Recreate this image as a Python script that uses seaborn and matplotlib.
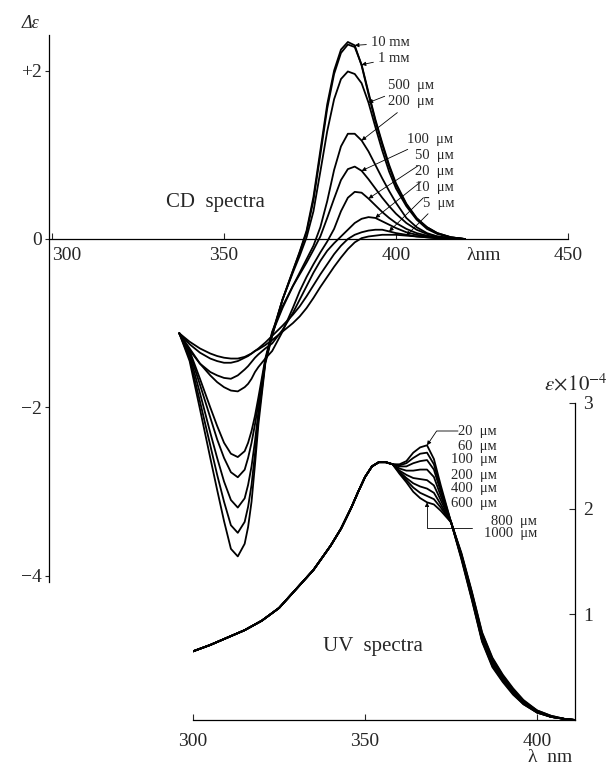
import matplotlib
matplotlib.use("Agg")
import matplotlib.pyplot as plt
import numpy as np
import pandas as pd
import seaborn as sns

# ---- CD spectra (delta epsilon) ----
cd_wl = [337, 340, 343, 346, 348, 350, 352, 354, 356, 357, 358, 359, 360,
         362, 364, 367, 370, 372, 374, 376, 378, 380, 382, 384, 386, 388,
         390, 392, 394, 396, 398, 400, 403, 406, 409, 412, 416, 420]

cd_10mM = [-1.12, -1.45, -2.02, -2.60, -2.98, -3.35, -3.68, -3.77, -3.62, -3.42, -3.12, -2.68, -2.20,
           -1.48, -1.15, -0.72, -0.38, -0.15, 0.10, 0.50, 1.05, 1.60, 2.00, 2.25, 2.34, 2.30,
           2.06, 1.72, 1.40, 1.12, 0.86, 0.64, 0.41, 0.24, 0.14, 0.07, 0.02, 0.00]
cd_1mM = [-1.12, -1.42, -1.93, -2.45, -2.80, -3.12, -3.40, -3.49, -3.36, -3.18, -2.92, -2.55, -2.12,
          -1.46, -1.14, -0.72, -0.38, -0.16, 0.08, 0.46, 1.00, 1.55, 1.96, 2.21, 2.31, 2.28,
          2.07, 1.74, 1.42, 1.14, 0.88, 0.66, 0.42, 0.25, 0.14, 0.07, 0.02, 0.00]
cd_500uM = [-1.12, -1.38, -1.83, -2.30, -2.60, -2.88, -3.10, -3.19, -3.08, -2.92, -2.70, -2.40, -2.05,
            -1.45, -1.12, -0.72, -0.40, -0.20, 0.02, 0.33, 0.80, 1.28, 1.66, 1.90, 1.99, 1.96,
            1.85, 1.62, 1.33, 1.05, 0.80, 0.60, 0.39, 0.23, 0.12, 0.06, 0.02, 0.00]
cd_200uM = [-1.12, -1.35, -1.73, -2.12, -2.38, -2.60, -2.77, -2.83, -2.74, -2.60, -2.42, -2.20, -1.95,
            -1.45, -1.12, -0.82, -0.56, -0.40, -0.24, -0.08, 0.14, 0.45, 0.82, 1.10, 1.25, 1.25,
            1.17, 1.04, 0.88, 0.72, 0.57, 0.43, 0.25, 0.14, 0.07, 0.03, 0.01, 0.00]
cd_100uM = [-1.12, -1.33, -1.66, -2.00, -2.22, -2.42, -2.55, -2.59, -2.52, -2.42, -2.28, -2.10, -1.88,
            -1.42, -1.10, -0.80, -0.56, -0.42, -0.28, -0.13, 0.03, 0.25, 0.48, 0.70, 0.83, 0.86,
            0.81, 0.71, 0.60, 0.49, 0.39, 0.30, 0.19, 0.11, 0.06, 0.03, 0.01, 0.00]
cd_50uM = [-1.12, -1.30, -1.48, -1.62, -1.70, -1.76, -1.80, -1.81, -1.76, -1.72, -1.66, -1.58, -1.52,
           -1.42, -1.33, -1.10, -0.82, -0.62, -0.45, -0.30, -0.16, -0.03, 0.12, 0.33, 0.49, 0.56,
           0.55, 0.48, 0.40, 0.32, 0.25, 0.19, 0.12, 0.07, 0.04, 0.02, 0.01, 0.00]
cd_20uM = [-1.12, -1.32, -1.48, -1.58, -1.62, -1.65, -1.66, -1.62, -1.55, -1.51, -1.46, -1.41, -1.37,
           -1.30, -1.24, -1.08, -0.88, -0.72, -0.56, -0.40, -0.26, -0.14, -0.05, 0.03, 0.11, 0.19,
           0.24, 0.26, 0.25, 0.21, 0.17, 0.13, 0.08, 0.05, 0.03, 0.01, 0.00, 0.00]
cd_10uM = [-1.12, -1.25, -1.35, -1.42, -1.45, -1.47, -1.47, -1.45, -1.41, -1.39, -1.36, -1.33, -1.30,
           -1.23, -1.15, -1.03, -0.90, -0.80, -0.68, -0.55, -0.42, -0.30, -0.18, -0.08, 0.00, 0.05,
           0.08, 0.10, 0.11, 0.11, 0.09, 0.07, 0.05, 0.03, 0.02, 0.01, 0.00, 0.00]
cd_5uM = [-1.12, -1.22, -1.30, -1.36, -1.39, -1.41, -1.42, -1.42, -1.40, -1.38, -1.36, -1.33, -1.31,
          -1.26, -1.20, -1.10, -1.00, -0.92, -0.82, -0.70, -0.57, -0.45, -0.33, -0.22, -0.12, -0.04,
          0.01, 0.03, 0.04, 0.05, 0.05, 0.05, 0.04, 0.03, 0.02, 0.01, 0.00, 0.00]

cd_labels = ["10 mᴍ", "1 mᴍ", "500  μᴍ", "200  μᴍ", "100  μᴍ", "50  μᴍ", "20  μᴍ", "10  μᴍ", "5  μᴍ"]
cd_series = [cd_10mM, cd_1mM, cd_500uM, cd_200uM, cd_100uM, cd_50uM, cd_20uM, cd_10uM, cd_5uM]
# wavelength where each leader line touches its curve
cd_arrow_wl = [388, 390, 392, 390, 390, 392, 394, 398, 403]

# ---- UV spectra (epsilon x 1e-4) ----
uv_wl = [300, 305, 310, 315, 320, 325, 330, 335, 340, 343, 346, 348, 350, 352, 354, 356, 358,
         360, 362, 364, 366, 368, 370, 372, 375,
         378, 381, 384, 387, 390, 393, 396, 400, 404, 408, 411]
# common part, all concentrations overlap here
uv_head = [0.65, 0.71, 0.78, 0.85, 0.94, 1.06, 1.24, 1.42, 1.65, 1.81, 2.01, 2.16, 2.30, 2.40,
           2.44, 2.44, 2.42]

uv_labels = ["20  μᴍ", "60  μᴍ", "100  μᴍ", "200  μᴍ", "400  μᴍ", "600  μᴍ", "800  μᴍ", "1000  μᴍ"]
# 360-375 nm, where the curves split
uv_mid = [
    [2.42, 2.45, 2.53, 2.58, 2.60, 2.47, 2.22, 1.87],
    [2.41, 2.43, 2.48, 2.52, 2.53, 2.42, 2.19, 1.87],
    [2.40, 2.40, 2.43, 2.45, 2.46, 2.37, 2.16, 1.87],
    [2.38, 2.36, 2.36, 2.37, 2.37, 2.30, 2.12, 1.87],
    [2.36, 2.32, 2.29, 2.28, 2.27, 2.22, 2.08, 1.87],
    [2.35, 2.29, 2.24, 2.21, 2.19, 2.15, 2.04, 1.87],
    [2.34, 2.27, 2.20, 2.15, 2.12, 2.09, 2.01, 1.87],
    [2.33, 2.25, 2.16, 2.10, 2.06, 2.04, 1.98, 1.87],
]
# 378-411 nm, the long-wavelength edge
uv_tail = [
    [1.52, 1.14, 0.74, 0.50, 0.36, 0.24, 0.15, 0.07, 0.03, 0.01, 0.00],
    [1.53, 1.15, 0.75, 0.51, 0.37, 0.25, 0.15, 0.07, 0.03, 0.01, 0.00],
    [1.54, 1.16, 0.76, 0.52, 0.38, 0.26, 0.16, 0.07, 0.03, 0.01, 0.00],
    [1.55, 1.17, 0.77, 0.53, 0.39, 0.27, 0.17, 0.08, 0.03, 0.01, 0.00],
    [1.56, 1.19, 0.79, 0.55, 0.40, 0.28, 0.17, 0.08, 0.03, 0.01, 0.00],
    [1.56, 1.20, 0.80, 0.56, 0.41, 0.28, 0.18, 0.08, 0.03, 0.01, 0.00],
    [1.57, 1.21, 0.82, 0.58, 0.42, 0.29, 0.18, 0.09, 0.04, 0.01, 0.00],
    [1.58, 1.22, 0.83, 0.59, 0.43, 0.30, 0.19, 0.09, 0.04, 0.01, 0.00],
]

W, H = 611, 765


def fpos(px, py):
    # pixel position measured from the top-left of the image -> figure fraction
    return px / W, 1 - py / H


sns.set_style("white")
plt.rcParams["font.family"] = ["Liberation Serif", "DejaVu Serif", "DejaVu Sans"]
plt.rcParams["mathtext.fontset"] = "stix"

rows = []
for lab, vals in zip(cd_labels, cd_series):
    for w, v in zip(cd_wl, vals):
        rows.append({"conc": lab, "wl": w, "val": v})
cd_df = pd.DataFrame(rows)

rows = []
for lab, mid, tail in zip(uv_labels, uv_mid, uv_tail):
    for w, v in zip(uv_wl, uv_head + mid + tail):
        rows.append({"conc": lab, "wl": w, "val": v})
uv_df = pd.DataFrame(rows)

fig = plt.figure(figsize=(W / 100, H / 100), dpi=100)
ax_cd = fig.add_axes([48.6 / W, 1 - 582 / H, (568 - 48.6) / W, 547 / H])
ax_uv = fig.add_axes([193 / W, 1 - 720 / H, 382 / W, 317 / H])
for ax in (ax_cd, ax_uv):
    ax.set_facecolor("none")

sns.lineplot(data=cd_df, x="wl", y="val", units="conc", estimator=None,
             color="black", lw=1.3, ax=ax_cd, legend=False)
sns.lineplot(data=uv_df, x="wl", y="val", units="conc", estimator=None,
             color="black", lw=1.3, ax=ax_uv, legend=False)

# CD axes
ax_cd.set_xlim(299, 450)
ax_cd.set_ylim(-4.074, 2.423)
ax_cd.spines["top"].set_visible(False)
ax_cd.spines["right"].set_visible(False)
ax_cd.spines["bottom"].set_position(("data", 0))
for s in ("left", "bottom"):
    ax_cd.spines[s].set_linewidth(0.9)
    ax_cd.spines[s].set_color("black")
ax_cd.set_xticks([300, 350, 400, 450])
ax_cd.set_xticklabels(["300", "350", "400", "450"])
ax_cd.get_xticklabels()[0].set_horizontalalignment("left")
ax_cd.set_yticks([-4, -2, 0, 2])
ax_cd.set_yticklabels(["−4", "−2", "0", "+2"])
ax_cd.tick_params(axis="x", direction="in", length=4, width=0.8, pad=6, labelsize=14, bottom=True)
ax_cd.tick_params(axis="y", direction="out", length=3, width=0.8, pad=2, labelsize=14, left=True)
ax_cd.set_xlabel("")
ax_cd.set_ylabel("")

# UV axes
ax_uv.set_xlim(300, 411)
ax_uv.set_ylim(0, 3)
ax_uv.spines["top"].set_visible(False)
ax_uv.spines["left"].set_visible(False)
for s in ("right", "bottom"):
    ax_uv.spines[s].set_linewidth(0.9)
    ax_uv.spines[s].set_color("black")
ax_uv.yaxis.tick_right()
ax_uv.set_xticks([300, 350, 400])
ax_uv.set_yticks([1, 2, 3])
ax_uv.tick_params(axis="x", direction="in", length=4, width=0.8, pad=9, labelsize=14, bottom=True)
ax_uv.tick_params(axis="y", direction="in", length=4, width=0.8, pad=6, labelsize=14, right=True)
ax_uv.set_xlabel("")
ax_uv.set_ylabel("")

# titles and axis names
fig.text(*fpos(30, 24), "Δε", style="italic", fontsize=13, ha="center", va="center")
fig.text(*fpos(215, 202), "CD  spectra", fontsize=15, ha="center", va="center")
fig.text(*fpos(484, 256), "λnm", fontsize=14, ha="center", va="center")
fig.text(*fpos(373, 647), "UV  spectra", fontsize=15, ha="center", va="center")
fig.text(*fpos(550, 757), "λ  nm", fontsize=14, ha="center", va="center")
fig.text(*fpos(576, 385), r"$\varepsilon\!\times\!10^{-4}$", fontsize=15, ha="center", va="center")

# CD leader labels
cd_text_pos = [(371, 43), (378, 58), (388, 86), (388, 102), (407, 139),
               (415, 155), (415, 171), (415, 187), (423, 203)]
arrow = dict(arrowstyle="-|>", lw=0.6, color="black", mutation_scale=6,
             shrinkA=1, shrinkB=0)
for lab, vals, w, (px, py) in zip(cd_labels, cd_series, cd_arrow_wl, cd_text_pos):
    i = cd_wl.index(w)
    ax_cd.annotate(lab, xy=(w, vals[i]), xytext=fpos(px, py), textcoords="figure fraction",
                   ha="left", va="center", fontsize=10.5, arrowprops=arrow)

# UV labels
uv_text_pos = [(497, 432), (497, 446), (497, 460), (497, 475), (497, 489),
               (497, 504), (537, 522), (537, 534)]
for lab, (px, py) in zip(uv_labels, uv_text_pos):
    fig.text(*fpos(px, py), lab, fontsize=10.5, ha="right", va="center")

k = uv_wl.index(368) - len(uv_head)
ax_uv.annotate("", xy=(368, uv_mid[0][k]), xytext=fpos(458, 431),
               textcoords="figure fraction",
               arrowprops=dict(arrowstyle="-|>", lw=0.6, color="black", mutation_scale=6,
                               shrinkA=0, shrinkB=0,
                               connectionstyle="angle,angleA=0,angleB=56,rad=0"))
ax_uv.annotate("", xy=(368, uv_mid[7][k]), xytext=fpos(472, 528),
               textcoords="figure fraction",
               arrowprops=dict(arrowstyle="-|>", lw=0.6, color="black", mutation_scale=6,
                               shrinkA=0, shrinkB=0,
                               connectionstyle="angle,angleA=0,angleB=90,rad=0"))

fig.savefig("out.png", dpi=100)
